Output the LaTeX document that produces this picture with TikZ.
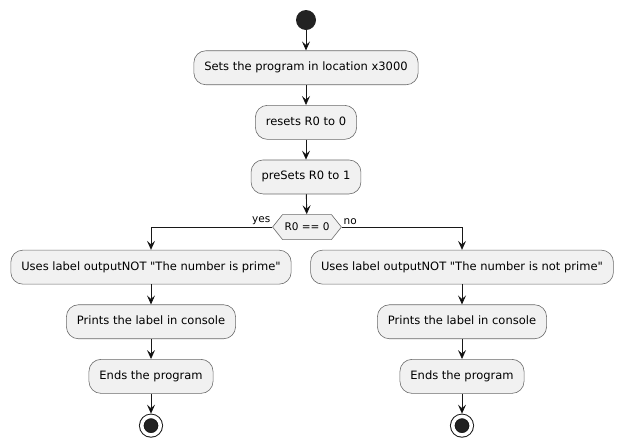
\documentclass[tikz,border=0pt]{standalone}
\usepackage{fontspec}
\setmainfont{DejaVu Sans}
\usetikzlibrary{arrows.meta,positioning,shapes.symbols}
\definecolor{actfill}{HTML}{F1F1F1}
\definecolor{actline}{HTML}{181818}
\definecolor{actborder}{HTML}{6A6A6A}
\definecolor{dotfill}{HTML}{222222}

\begin{document}
\begin{tikzpicture}[x=1pt,y=-1pt,>={Stealth[length=9pt,width=8pt,inset=3.5pt]},
                node distance=20pt,line width=0.9pt,
                act node/.style={rectangle,rounded corners=12pt,draw=actborder,line width=0.6pt,fill=actfill,
                  minimum height=34pt,inner xsep=10.5pt,text height=8.5pt,text depth=2.5pt,
                  font=\fontsize{11.5}{14}\selectfont},
                cond node/.style={signal,signal to=east and west,signal pointer angle=103,draw=actborder,
                  line width=0.6pt,fill=actfill,minimum height=25pt,inner xsep=2pt,
                  font=\fontsize{10.5}{12}\selectfont},
                start node/.style={circle,fill=dotfill,minimum size=20pt,inner sep=0pt},
                stop node/.style={circle,fill=dotfill,draw=actline,line width=1pt,double=white,
                  double distance=3.5pt,minimum size=18.5pt,inner sep=0pt,outer sep=2.75pt}]
                \useasboundingbox (0,0) rectangle (623,440);
                \node[start node] (0) at (306,20) {};
                \node[act node] (1) [below=of 0] {Sets the program in location x3000};
                \node[act node] (2) [below=of 1] {resets R0 to 0};
                \node[act node] (3) [below=of 2] {preSets R0 to 1};
                \node[cond node] (4) [below=of 3, xshift=1pt] {R0 == 0};
                \node[act node] (5) [below=10pt of 4, xshift=-156pt]
                  {Uses label outputNOT \textquotedbl The number is prime\textquotedbl};
                \node[act node] (6) [below=of 5] {Prints the label in console};
                \node[act node] (7) [below=of 6] {Ends the program};
                \node[stop node] (8) [below=of 7] {};
                \node[act node] (9) [below=10pt of 4, xshift=155pt]
                  {Uses label outputNOT \textquotedbl The number is not prime\textquotedbl};
                \node[act node] (10) [below=of 9] {Prints the label in console};
                \node[act node] (11) [below=of 10] {Ends the program};
                \node[stop node] (12) [below=of 11] {};

                \path[->,draw=actline]
                (0) edge (1)
                (1) edge (2)
                (2) edge (3)
                (3) edge (4)
                (5) edge (6)
                (6) edge (7)
                (7) edge (8)
                (9) edge (10)
                (10) edge (11)
                (11) edge (12)
                ;
                \path[->,draw=actline,every node/.style={font=\fontsize{10.5}{12}\selectfont,inner sep=1.5pt}]
                (4.west) -| node[pos=0,above left] {yes} (5);
                \path[->,draw=actline,every node/.style={font=\fontsize{10.5}{12}\selectfont,inner sep=1.5pt}]
                (4.east) -| node[pos=0,above right] {no} (9);
\end{tikzpicture}
\end{document}
